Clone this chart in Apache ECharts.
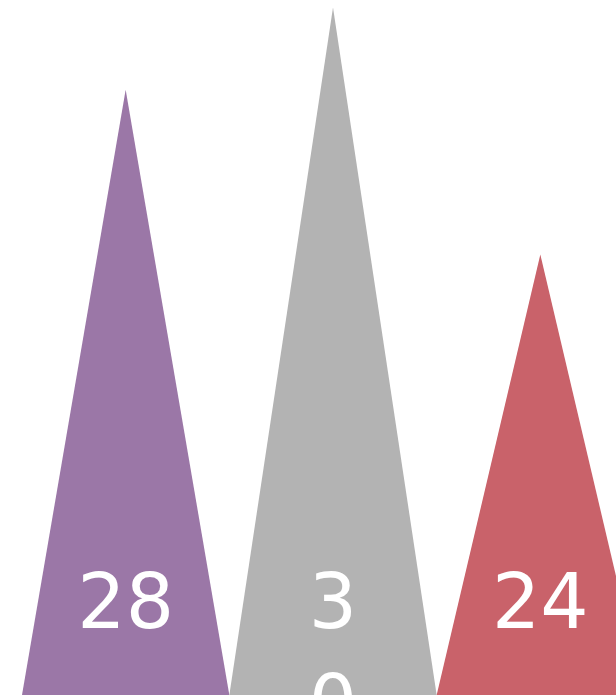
<!DOCTYPE html>
<html>
<head>
<meta charset="utf-8">
<style>
html,body{margin:0;padding:0;background:#fff;}
#main{width:616px;height:695px;}
</style>
<script src="https://cdn.jsdelivr.net/npm/echarts@6/dist/echarts.min.js"></script>
</head>
<body>
<div id="main"></div>
<script>
var categories = ['A', 'B', 'C'];
var values = [28, 30, 24];
var colors = ['#9b77a7', '#b3b3b3', '#c9626a'];

var Y_MIN = 13.3, Y_MAX = 30.18;
var chart = echarts.init(document.getElementById('main'), null, {renderer: 'canvas'});
var data = values.map(function (v, i) { return [i, v]; });

chart.setOption({
  backgroundColor: '#ffffff',
  animation: false,
  grid: { left: 22, width: 622, top: 0, bottom: 0, outerBoundsMode: 'none' },
  xAxis: {
    type: 'category',
    data: categories,
    show: false
  },
  yAxis: {
    type: 'value',
    min: Y_MIN,
    max: Y_MAX,
    show: false,
    splitLine: { show: false }
  },
  series: [{
    type: 'custom',
    clip: false,
    encode: { x: 0, y: 1 },
    data: data,
    renderItem: function (params, api) {
      var i = api.value(0), v = api.value(1);
      var top = api.coord([i, v]);
      var base = api.coord([i, Y_MIN]);
      var w = api.size([1, 0])[0];
      var textStyle = {
        text: String(v),
        fill: '#ffffff',
        fontSize: 76,
        lineHeight: 101,
        fontFamily: 'DejaVu Sans',
        align: 'center',
        verticalAlign: 'top'
      };
      if (i === 1) {
        textStyle.width = 50;
        textStyle.overflow = 'breakAll';
      }
      return {
        type: 'group',
        children: [{
          type: 'polygon',
          shape: { points: [[top[0], top[1]], [base[0] + w / 2, base[1]], [base[0] - w / 2, base[1]]] },
          style: { fill: colors[i] }
        }, {
          type: 'text',
          x: base[0],
          y: base[1] - 137,
          z2: 10,
          style: textStyle
        }]
      };
    }
  }]
});
</script>
</body>
</html>
